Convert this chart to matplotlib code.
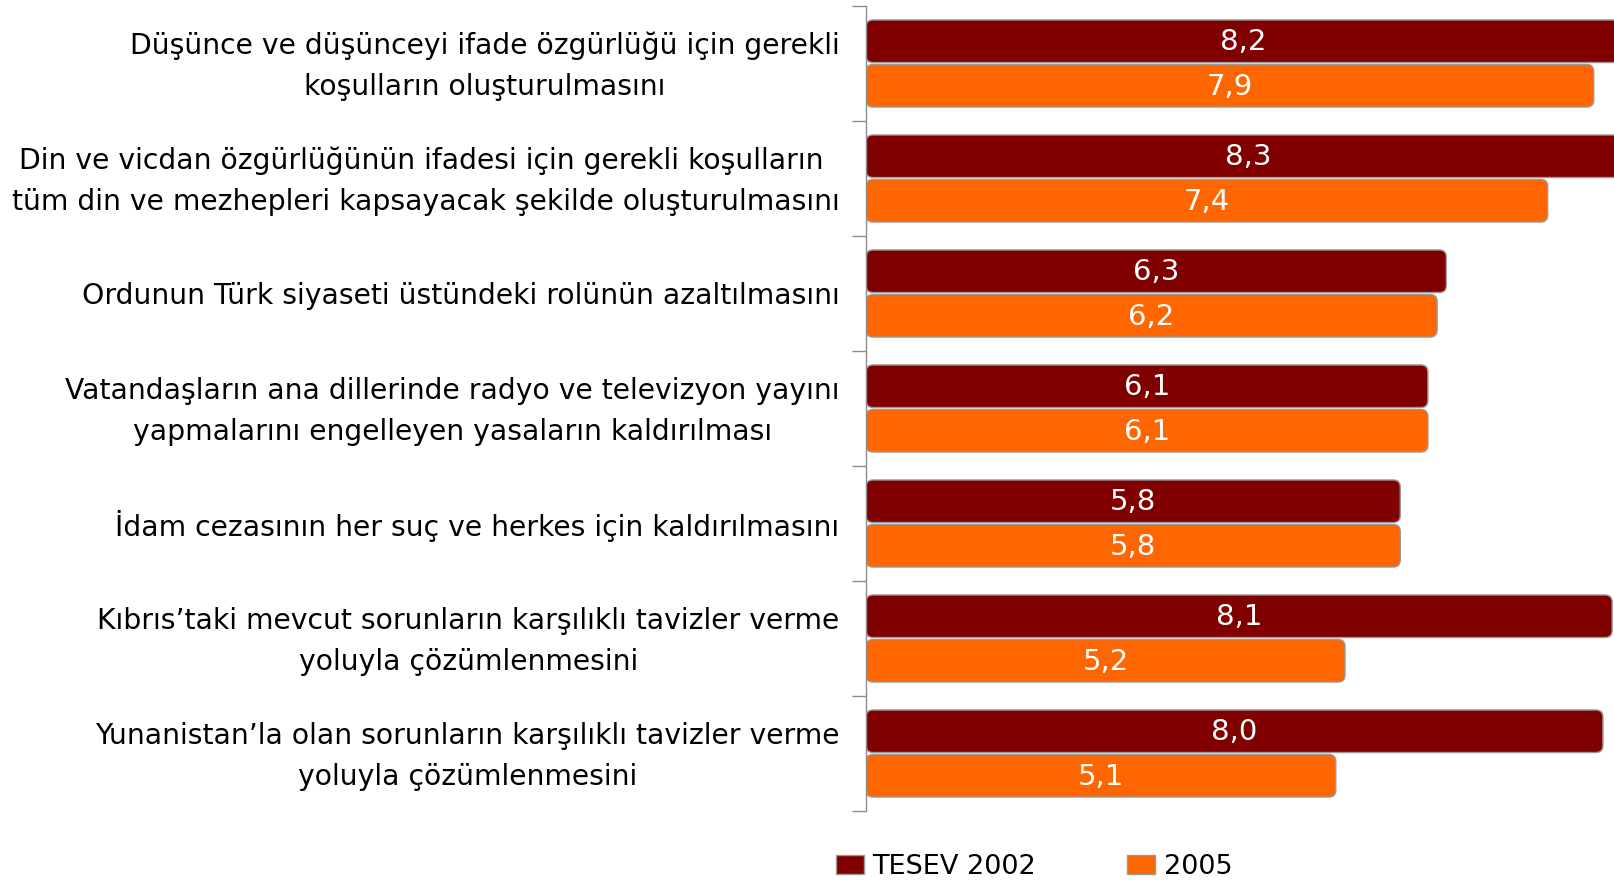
import numpy as np
import matplotlib
matplotlib.use("Agg")
import matplotlib.pyplot as plt
from matplotlib.patches import FancyBboxPatch, Patch

# ── Data ──────────────────────────────────────────────────────────────────────
CATEGORIES = [
    "Düşünce ve düşünceyi ifade özgürlüğü için gerekli\nkoşulların oluşturulmasını",
    "Din ve vicdan özgürlüğünün ifadesi için gerekli koşulların \ntüm din ve mezhepleri kapsayacak şekilde oluşturulmasını",
    "Ordunun Türk siyaseti üstündeki rolünün azaltılmasını",
    "Vatandaşların ana dillerinde radyo ve televizyon yayını\nyapmalarını engelleyen yasaların kaldırılması",
    "İdam cezasının her suç ve herkes için kaldırılmasını",
    "Kıbrıs’taki mevcut sorunların karşılıklı tavizler verme\nyoluyla çözümlenmesini",
    "Yunanistan’la olan sorunların karşılıklı tavizler verme\nyoluyla çözümlenmesini",
]
TESEV_2002 = [8.2, 8.3, 6.3, 6.1, 5.8, 8.1, 8.0]
Y_2005     = [7.9, 7.4, 6.2, 6.1, 5.8, 5.2, 5.1]
SERIES     = ["TESEV 2002", "2005"]

# ── Style ─────────────────────────────────────────────────────────────────────
COLORS    = ["#800000", "#FF6600"]
EDGE      = "#9a9a9a"
FONT      = "DejaVu Sans"
LABEL_FS  = 20.3
LEGEND_FS = 19.5
VALUE_FS  = 21
BAR_H     = 0.37
GAP       = 0.017

W, H = 1614, 880
fig = plt.figure(figsize=(W / 100, H / 100), dpi=100)
ax = fig.add_axes([866 / W, 1 - 811 / H, 1 - 866 / W, (811 - 6) / H])

XMAX = 8.12
ax.set_xlim(0, XMAX)
ax.set_ylim(len(CATEGORIES), 0)

# px per data unit, used to keep corner rounding circular
px_x = (W - 866) / XMAX
px_y = (811 - 6) / len(CATEGORIES)
radius = 7 / px_x

for i in range(len(CATEGORIES)):
    center = i + 0.5
    tops = [center - GAP / 2 - BAR_H, center + GAP / 2]
    for s, vals in enumerate([TESEV_2002, Y_2005]):
        v = vals[i]
        patch = FancyBboxPatch(
            (0, tops[s]), v, BAR_H,
            boxstyle=f"round,pad=0,rounding_size={radius}",
            mutation_aspect=px_x / px_y,
            facecolor=COLORS[s], edgecolor=EDGE, linewidth=1.0,
            clip_on=True,
        )
        ax.add_patch(patch)
        ax.text(v / 2, tops[s] + BAR_H / 2 + 0.01, f"{v:.1f}".replace(".", ","),
                ha="center", va="center", color="white",
                fontsize=VALUE_FS, family=FONT)

# Axis: only the left spine with ticks at category boundaries
for side in ["top", "right", "bottom"]:
    ax.spines[side].set_visible(False)
ax.spines["left"].set_color("#8c8c8c")
ax.spines["left"].set_linewidth(1.0)
ax.set_xticks([])
ax.set_yticks(np.arange(len(CATEGORIES) + 1))
ax.set_yticklabels([])
ax.tick_params(axis="y", which="major", length=10, color="#8c8c8c", width=1.0)
# labels sit a touch below the category centre, as in the original
ax.set_yticks(np.arange(len(CATEGORIES)) + 0.525, minor=True)
ax.set_yticklabels(CATEGORIES, minor=True, fontsize=LABEL_FS, family=FONT,
                   multialignment="center", linespacing=1.58)
ax.tick_params(axis="y", which="minor", length=0, pad=19)
for t in ax.get_yticklabels(minor=True):
    t.set_verticalalignment("center")

# Legend
handles = [Patch(facecolor=c, edgecolor=EDGE, linewidth=1.0) for c in COLORS]
fig.legend(handles, SERIES, loc="lower left", bbox_to_anchor=(836 / W, 0),
           ncol=2, frameon=False, prop={"family": FONT, "size": LEGEND_FS},
           handlelength=1.05, handleheight=0.7, handletextpad=0.3,
           columnspacing=3.35, borderpad=0.0, borderaxespad=0.0)

fig.savefig("out.png", dpi=100)
